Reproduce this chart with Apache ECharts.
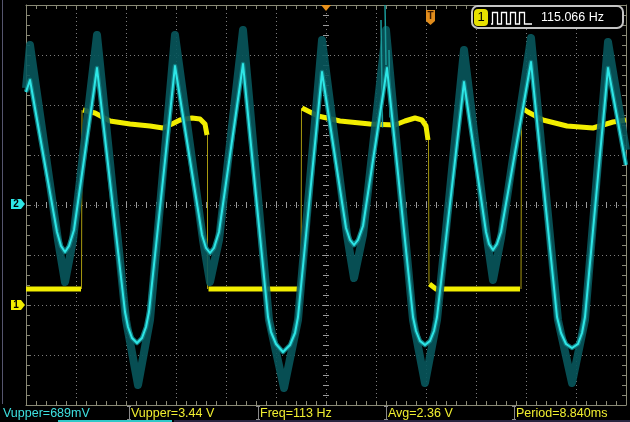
<!DOCTYPE html>
<html><head><meta charset="utf-8">
<script src="https://cdn.jsdelivr.net/npm/echarts@6/dist/echarts.min.js"></script>
<style>html,body{margin:0;padding:0;background:#000;}#c{width:630px;height:422px;}</style>
</head><body><div id="c"></div>
<script>
// Time axis: 2 ms/div, 12 divisions, trigger at centre
const timeMin = -12, timeMax = 12, timePerDiv = 2;
// CH1: 1 V/div, ground marker 2 div below centre
const ch1Min = -2, ch1Max = 6, ch1PerDiv = 1;
// CH2: 200 mV/div, ground at centre
const ch2Min = -800, ch2Max = 800, ch2PerDiv = 200;

// CH1 square wave: thick (bright) plateau segments [ms, V]
const ch1Plateaus = [
  [[-12, 0.32], [-9.8, 0.32]],
  [[-9.72, 3.9], [-9.24, 3.84], [-8.64, 3.68], [-7.84, 3.62], [-7.04, 3.58], [-6.52, 3.54], [-6.16, 3.62], [-5.84, 3.70], [-5.36, 3.74], [-5.04, 3.72], [-4.84, 3.62], [-4.76, 3.40]],
  [[-4.7, 0.32], [-1.04, 0.32]],
  [[-0.96, 3.94], [-0.32, 3.78], [0.56, 3.68], [1.76, 3.62], [2.76, 3.60], [3.16, 3.68], [3.56, 3.74], [3.84, 3.70], [4.0, 3.58], [4.08, 3.30]],
  [[4.14, 0.42], [4.4, 0.32], [7.76, 0.32]],
  [[7.84, 3.94], [8.08, 3.86], [8.68, 3.70], [9.64, 3.58], [10.68, 3.54], [11.08, 3.60], [11.48, 3.66], [12.0, 3.70]]
];
// CH1 fast (dim) transitions [ms, V]
const ch1Edges = [
  [[-9.78, 0.32], [-9.76, 3.9]],
  [[-4.74, 3.4], [-4.74, 0.32]],
  [[-1.0, 0.32], [-0.98, 3.94]],
  [[4.1, 3.3], [4.12, 0.42]],
  [[7.8, 0.32], [7.82, 3.94]]
];
// CH2 main trace [ms, mV]
const ch2Trace = [
  [-12.0, 452], [-11.84, 500], [-10.76, -108], [-10.6, -164], [-10.44, -188], [-10.28, -164], [-10.08, -100],
  [-9.16, 548], [-8.04, -428], [-7.92, -488], [-7.76, -532], [-7.56, -552], [-7.36, -532], [-7.2, -488], [-7.08, -428],
  [-6.04, 556], [-4.96, -120], [-4.8, -172], [-4.64, -192], [-4.48, -172], [-4.28, -108],
  [-3.32, 564], [-2.32, -448], [-2.2, -508], [-2.0, -556], [-1.72, -588], [-1.44, -560], [-1.24, -512], [-1.12, -448],
  [-0.16, 532], [0.8, -92], [0.96, -140], [1.12, -160], [1.28, -140], [1.48, -84],
  [2.44, 548], [3.48, -448], [3.6, -504], [3.76, -544], [3.96, -560], [4.16, -544], [4.32, -504], [4.44, -448],
  [5.52, 492], [6.4, -108], [6.52, -156], [6.68, -180], [6.84, -156], [7.0, -108],
  [8.2, 572], [9.24, -448], [9.4, -512], [9.6, -556], [9.84, -572], [10.08, -556], [10.24, -512], [10.36, -448],
  [11.28, 548], [12.0, 160]
];
// CH2 persistence envelope extremes [ms, mV]
const ch2Persistence = [
  [-12, 468], [-11.84, 640], [-10.72, -140], [-10.44, -308], [-10.12, -140],
  [-9.16, 680], [-8.0, -460], [-7.52, -720], [-7.04, -460],
  [-6.04, 680], [-4.92, -140], [-4.64, -308], [-4.28, -140],
  [-3.32, 700], [-2.28, -460], [-1.68, -732], [-1.12, -460],
  [-0.16, 660], [0.84, -120], [1.12, -292], [1.48, -120],
  [2.4, 700], [3.48, -460], [3.96, -712], [4.44, -460],
  [5.52, 620], [6.44, -132], [6.68, -300], [7.0, -132],
  [8.2, 668], [9.28, -460], [9.84, -712], [10.36, -460],
  [11.28, 652], [12.0, 220]
];
// CH2 stray glitch traces [ms, mV]
const ch2Glitches = [
  [[2.36, 800], [2.4, 560]],
  [[2.2, 740], [2.26, 310]],
  [[2.52, 620], [2.56, 350]]
];
const measureLabels = ['Vupper=689mV', 'Vupper=3.44 V', 'Freq=113 Hz', 'Avg=2.36 V', 'Period=8.840ms'];
const measureChannels = [2, 1, 1, 1, 1];
const freqReadout = '115.066 Hz';

const CH1C = '#f2ee00', CH2C = '#2ee6e6';
const FRAME = '#8a8a76';

function joinSegs(segs) {
  const out = [];
  segs.forEach((s, i) => { if (i) out.push([s[0][0], null]); s.forEach(p => out.push(p)); });
  return out;
}

function edgeAxis(extra) {
  return Object.assign({
    type: 'value', axisLabel: {show: false},
    axisLine: {show: true, onZero: false, lineStyle: {color: FRAME, width: 1}},
    axisTick: {show: true, inside: true, length: 4, lineStyle: {color: FRAME}},
    minorTick: {show: true, splitNumber: 5, length: 4, lineStyle: {color: FRAME}},
    splitLine: {show: false}
  }, extra);
}
function crossAxis(extra, inside) {
  return Object.assign({
    type: 'value', axisLabel: {show: false},
    axisLine: {show: false, onZero: true},
    axisTick: {show: true, inside: inside, length: 3, lineStyle: {color: '#9a9a9a'}},
    minorTick: {show: true, splitNumber: 5, length: 3, lineStyle: {color: '#9a9a9a'}},
    splitLine: {show: false}
  }, extra);
}
const gridSplit = {show: true, lineStyle: {color: '#7c7c7c', width: 1, type: [1, 3]}};

const chart = echarts.init(document.getElementById('c'), null, {renderer: 'canvas'});

const graphics = [];
graphics.push({type: 'line', shape: {x1: 2.5, y1: 0, x2: 2.5, y2: 404}, style: {stroke: '#55556e', lineWidth: 1}, z: 10});
graphics.push({type: 'polygon', shape: {points: [[11, 199], [21, 199], [25, 204], [21, 209], [11, 209]]}, style: {fill: CH2C}, z: 10});
graphics.push({type: 'text', x: 16, y: 204.5, style: {text: '2', fill: '#000', font: 'bold 10px "Liberation Sans"', align: 'center', verticalAlign: 'middle'}, z: 11});
graphics.push({type: 'polygon', shape: {points: [[11, 300], [21, 300], [25, 305], [21, 310], [11, 310]]}, style: {fill: CH1C}, z: 10});
graphics.push({type: 'text', x: 16, y: 305.5, style: {text: '1', fill: '#000', font: 'bold 10px "Liberation Sans"', align: 'center', verticalAlign: 'middle'}, z: 11});
graphics.push({type: 'polygon', shape: {points: [[321, 5], [331, 5], [326, 11]]}, style: {fill: '#e8901a'}, z: 10});
graphics.push({type: 'polygon', shape: {points: [[426, 10], [435, 10], [435, 21], [430.5, 25], [426, 21]]}, style: {fill: '#e08c1c'}, z: 10});
graphics.push({type: 'text', x: 430.5, y: 16, style: {text: 'T', fill: '#3a1a00', font: 'bold 10px "Liberation Sans"', align: 'center', verticalAlign: 'middle'}, z: 11});
graphics.push({type: 'rect', shape: {x: 472, y: 6, width: 151, height: 22, r: 6}, style: {fill: '#000', stroke: '#c4c4c4', lineWidth: 2}, z: 10});
graphics.push({type: 'rect', shape: {x: 474, y: 9, width: 14, height: 17, r: 4}, style: {fill: '#e6e000'}, z: 11});
graphics.push({type: 'text', x: 481, y: 17.5, style: {text: '1', fill: '#000', font: '13px "Liberation Sans"', align: 'center', verticalAlign: 'middle'}, z: 12});
graphics.push({type: 'polyline', shape: {points: [[491, 24], [492.5, 24], [492.5, 12.5], [497.5, 12.5], [497.5, 24], [501.5, 24], [501.5, 12.5], [506.5, 12.5], [506.5, 24], [510.5, 24], [510.5, 12.5], [515.5, 12.5], [515.5, 24], [519.5, 24], [519.5, 12.5], [524.5, 12.5], [524.5, 24], [532, 24]]}, style: {stroke: '#fff', lineWidth: 1.3, fill: null}, z: 11});
graphics.push({type: 'text', x: 541, y: 17.5, style: {text: freqReadout, fill: '#fff', font: '12.5px "Liberation Sans"', verticalAlign: 'middle'}, z: 11});
const mX = [3, 131, 260, 388, 516];
const sepX = [129, 258, 386, 514];
measureLabels.forEach((t, i) => {
  graphics.push({type: 'text', x: mX[i], y: 413.5, style: {text: t, fill: measureChannels[i] === 2 ? '#3ee0e0' : '#f0ee30', font: '12.5px "Liberation Sans"', verticalAlign: 'middle'}, z: 11});
});
sepX.forEach(x => {
  graphics.push({type: 'polyline', shape: {points: [[x - 2, 406.5], [x + 2, 406.5]]}, style: {stroke: '#8a8a8a', lineWidth: 1}, z: 11});
  graphics.push({type: 'line', shape: {x1: x + 0.5, y1: 406, x2: x + 0.5, y2: 420}, style: {stroke: '#8a8a8a', lineWidth: 1}, z: 11});
  graphics.push({type: 'polyline', shape: {points: [[x - 2, 419.5], [x + 2, 419.5]]}, style: {stroke: '#8a8a8a', lineWidth: 1}, z: 11});
});
graphics.push({type: 'rect', shape: {x: 58, y: 420, width: 114, height: 2}, style: {fill: '#2fc8c8'}, z: 11});
graphics.push({type: 'rect', shape: {x: 174, y: 420, width: 456, height: 2}, style: {fill: '#2a2540'}, z: 11});

const option = {
  backgroundColor: '#000',
  animation: false,
  grid: {left: 26, top: 5, width: 600, height: 400, containLabel: false},
  xAxis: [
    edgeAxis({position: 'bottom', min: timeMin, max: timeMax, interval: timePerDiv, splitLine: gridSplit}),
    edgeAxis({position: 'top', min: timeMin, max: timeMax, interval: timePerDiv}),
    crossAxis({position: 'bottom', min: timeMin, max: timeMax, interval: timePerDiv, axisLine: {show: false, onZero: true, onZeroAxisIndex: 1}}, true),
    crossAxis({position: 'bottom', min: timeMin, max: timeMax, interval: timePerDiv, axisLine: {show: false, onZero: true, onZeroAxisIndex: 1}}, false)
  ],
  yAxis: [
    edgeAxis({position: 'left', min: ch1Min, max: ch1Max, interval: ch1PerDiv, splitLine: gridSplit}),
    edgeAxis({position: 'right', min: ch2Min, max: ch2Max, interval: ch2PerDiv}),
    crossAxis({position: 'left', min: -4, max: 4, interval: 1, axisLine: {show: false, onZero: true, onZeroAxisIndex: 0}}, true),
    crossAxis({position: 'left', min: -4, max: 4, interval: 1, axisLine: {show: false, onZero: true, onZeroAxisIndex: 0}}, false)
  ],
  series: [
    {type: 'line', name: 'CH1 edges', xAxisIndex: 0, yAxisIndex: 0, data: joinSegs(ch1Edges), symbol: 'none', connectNulls: false, silent: true, z: 2,
     lineStyle: {color: '#a89a10', width: 1}},
    {type: 'line', name: 'CH1', xAxisIndex: 0, yAxisIndex: 0, data: joinSegs(ch1Plateaus), symbol: 'none', connectNulls: false, silent: true, z: 2,
     lineStyle: {color: CH1C, width: 5, join: 'round', cap: 'butt'}},
    {type: 'line', name: 'CH2 persist', xAxisIndex: 0, yAxisIndex: 1, data: ch2Persistence, symbol: 'none', silent: true, z: 3,
     lineStyle: {color: 'rgba(8,86,92,0.9)', width: 8, join: 'round'}},
    {type: 'line', name: 'CH2 glitch', xAxisIndex: 0, yAxisIndex: 1, data: joinSegs(ch2Glitches), symbol: 'none', connectNulls: false, silent: true, z: 3,
     lineStyle: {color: '#1a9a9a', width: 1.5}},
    {type: 'line', name: 'CH2 halo', xAxisIndex: 0, yAxisIndex: 1, data: ch2Trace, symbol: 'none', silent: true, z: 4,
     lineStyle: {color: '#107a7e', width: 4.5, join: 'round'}},
    {type: 'line', name: 'CH2', xAxisIndex: 0, yAxisIndex: 1, data: ch2Trace, symbol: 'none', silent: true, z: 5,
     lineStyle: {color: CH2C, width: 2, join: 'round'}}
  ],
  graphic: graphics
};
chart.setOption(option);
</script>
</body></html>
